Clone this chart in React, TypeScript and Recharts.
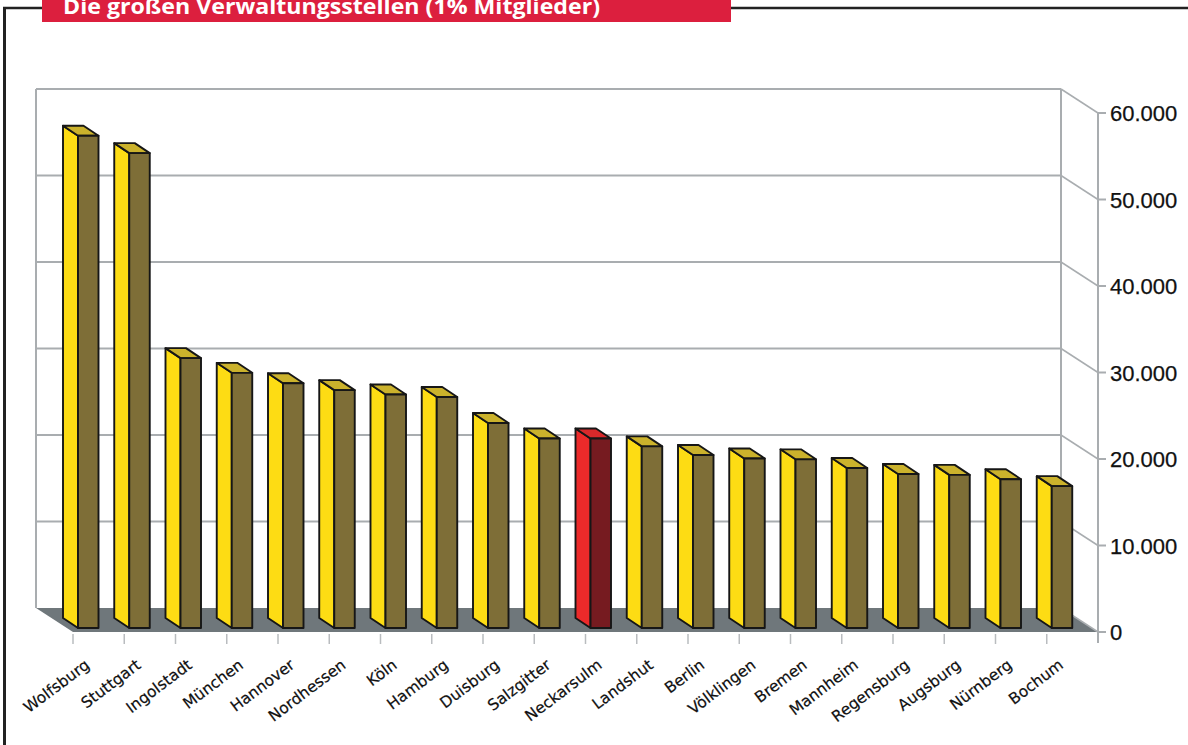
import { BarChart, Bar, XAxis, YAxis, ReferenceArea } from 'recharts';

const cities = [
  'Wolfsburg', 'Stuttgart', 'Ingolstadt', 'München', 'Hannover', 'Nordhessen', 'Köln',
  'Hamburg', 'Duisburg', 'Salzgitter', 'Neckarsulm', 'Landshut', 'Berlin', 'Völklingen',
  'Bremen', 'Mannheim', 'Regensburg', 'Augsburg', 'Nürnberg', 'Bochum',
];
const members = [
  56900, 54900, 31200, 29500, 28300, 27500, 27000, 26700, 23700, 21900,
  21900, 21000, 20000, 19600, 19500, 18500, 17800, 17700, 17200, 16400,
];
const highlight = 'Neckarsulm';
const yTicks = [0, 10000, 20000, 30000, 40000, 50000, 60000];

const data = cities.map((name, i) => ({ name, value: members[i] }));

const DEPTH_X = 37;
const DEPTH_Y = 24;

const fmt = (v: number) => (v === 0 ? '0' : v.toLocaleString('de-DE'));

// back wall, floor, gridlines and boundary ticks, from the plot rectangle
function Walls(props: any) {
  const { x, y, width, height } = props;
  const bottom = y + height;
  const right = x + width;
  const n = cities.length;
  const grid = '#a9adb0';
  return (
    <g>
      <polygon
        points={`${x - DEPTH_X},${bottom - DEPTH_Y} ${right - DEPTH_X},${bottom - DEPTH_Y} ${right},${bottom} ${x},${bottom}`}
        fill="#6f777b"
      />
      {yTicks.map((t) => {
        const yf = bottom - (t / 60000) * height;
        const yb = yf - DEPTH_Y;
        return (
          <g key={t}>
            {t > 0 && (
              <line x1={x - DEPTH_X} y1={yb} x2={right - DEPTH_X} y2={yb} stroke={grid} strokeWidth={2} />
            )}
            <line x1={right - DEPTH_X} y1={yb} x2={right} y2={yf} stroke={grid} strokeWidth={1.5} />
          </g>
        );
      })}
      <line x1={x - DEPTH_X} y1={y - DEPTH_Y} x2={x - DEPTH_X} y2={bottom - DEPTH_Y} stroke={grid} strokeWidth={2} />
      <line x1={right - DEPTH_X} y1={y - DEPTH_Y} x2={right - DEPTH_X} y2={bottom - DEPTH_Y} stroke={grid} strokeWidth={2} />
      <line x1={right} y1={bottom} x2={right} y2={bottom + 11} stroke={grid} strokeWidth={2} />
      {Array.from({ length: n }, (_, i) => {
        const tx = x + (width * i) / n;
        return <line key={i} x1={tx} y1={bottom + 2} x2={tx} y2={bottom + 12} stroke="#b9bcbf" strokeWidth={1.5} />;
      })}
    </g>
  );
}

function Bar3D(props: any) {
  const { x, y, width, height, payload } = props;
  const red = payload.name === highlight;
  const cx = x + width / 2;
  const L = cx - 20.5;
  const R = cx;
  const T = y - 4;
  const B = y + height - 4;
  const dx = -15;
  const dy = -10;
  const side = red ? '#ec2a2a' : '#fddc14';
  const front = red ? '#761b20' : '#7e6e37';
  const top = red ? '#d8292b' : '#cbb22c';
  const s = { stroke: '#161616', strokeWidth: 1.9, strokeLinejoin: 'round' as const };
  return (
    <g>
      <polygon points={`${L},${T} ${L},${B} ${L + dx},${B + dy} ${L + dx},${T + dy}`} fill={side} {...s} />
      <polygon points={`${L},${T} ${R},${T} ${R + dx},${T + dy} ${L + dx},${T + dy}`} fill={top} {...s} />
      <rect x={L} y={T} width={R - L} height={B - T} fill={front} {...s} />
    </g>
  );
}

function CityTick(props: any) {
  const { x, y, payload } = props;
  const ax = x - 8;
  const ay = y + 35;
  return (
    <text
      x={ax}
      y={ay}
      transform={`rotate(-37, ${ax}, ${ay})`}
      textAnchor="end"
      fontSize={15.5}
      fontFamily="'DejaVu Sans', Verdana, sans-serif"
      fill="#111"
      stroke="#111"
      strokeWidth={0.2}
    >
      {payload.value}
    </text>
  );
}

function ValueTick(props: any) {
  const { x, y, payload } = props;
  return (
    <text
      x={x}
      y={y}
      dy={8}
      textAnchor="start"
      fontSize={22}
      fontFamily="'Liberation Sans', Arial, sans-serif"
      fill="#111"
      stroke="#111"
      strokeWidth={0.25}
    >
      {fmt(payload.value)}
    </text>
  );
}

export default function App() {
  return (
    <div style={{ position: 'absolute', left: 0, top: 0, width: 1188, height: 745, background: '#fff', overflow: 'hidden' }}>
      <svg width={1188} height={30} style={{ position: 'absolute', left: 0, top: 0, zIndex: 2 }}>
        <line x1={3} y1={8} x2={1188} y2={8} stroke="#222" strokeWidth={2.5} />
        <rect x={42} y={0} width={689} height={22} fill="#dc1f3e" />
        <text
          x={63}
          y={14}
          fontSize={21}
          fontWeight="bold"
          fontFamily="'Open Sans', 'Noto Sans', sans-serif"
          fill="#fff"
          textLength={537}
          lengthAdjust="spacingAndGlyphs"
        >
          Die großen Verwaltungsstellen (1% Mitglieder)
        </text>
      </svg>
      <div style={{ position: 'absolute', left: 3, top: 7, width: 2.5, height: 745, background: '#222', zIndex: 2 }} />
      <BarChart
        width={1188}
        height={745}
        data={data}
        margin={{ top: 113, right: 0, left: 73, bottom: 0 }}
        barCategoryGap={0}
      >
        <XAxis
          dataKey="name"
          interval={0}
          tick={<CityTick />}
          tickLine={false}
          axisLine={false}
          tickSize={0}
          tickMargin={0}
          height={113}
        />
        <YAxis
          orientation="right"
          domain={[0, 60000]}
          ticks={yTicks}
          width={90}
          tick={<ValueTick />}
          tickSize={8}
          tickMargin={4}
          axisLine={{ stroke: '#a9adb0', strokeWidth: 2 }}
          tickLine={{ stroke: '#a9adb0', strokeWidth: 2 }}
        />
        <ReferenceArea y1={0} y2={60000} shape={<Walls />} ifOverflow="visible" />
        <Bar dataKey="value" shape={<Bar3D />} isAnimationActive={false} />
      </BarChart>
    </div>
  );
}
